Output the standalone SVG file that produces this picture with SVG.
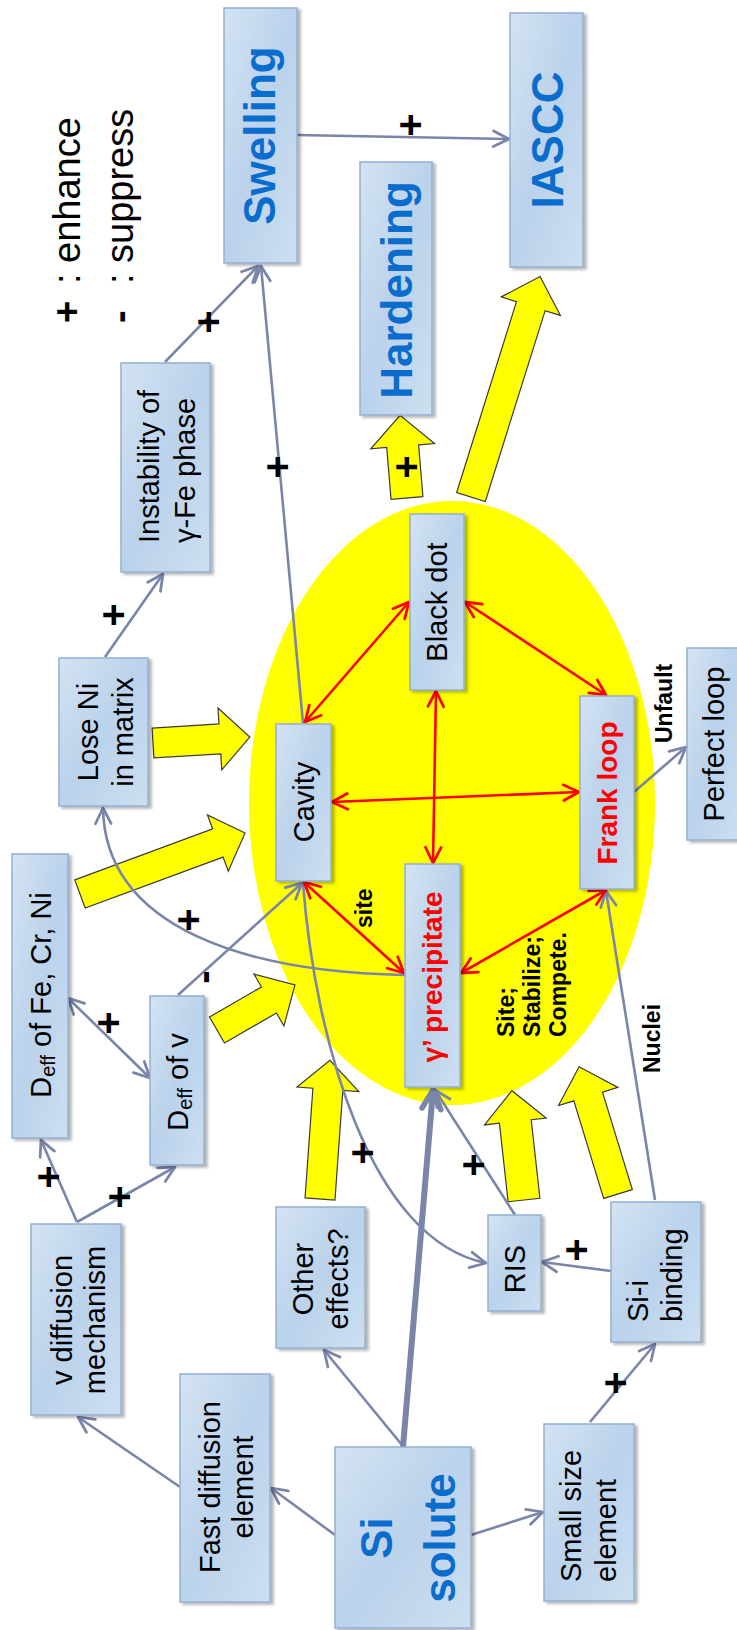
<svg xmlns="http://www.w3.org/2000/svg" width="737" height="1630" viewBox="0 0 737 1630">
<style>
.box{fill:url(#bg);stroke:#93afd2;stroke-width:1.5;filter:url(#sh)}
.t{font-family:"Liberation Sans",Arial,sans-serif;font-size:29px;fill:#000}
.tb{font-family:"Liberation Sans",Arial,sans-serif;font-size:44px;font-weight:bold;fill:#0a6ccc}
.tr{font-family:"Liberation Sans",Arial,sans-serif;font-size:28px;font-weight:bold;fill:#ff0000}
.lb{font-family:"Liberation Sans",Arial,sans-serif;font-size:23px;font-weight:bold;fill:#000}
.pm{font-family:"Liberation Sans",Arial,sans-serif;font-size:40px;font-weight:bold;fill:#000}
.lg{font-family:"Liberation Sans",Arial,sans-serif;font-size:38px;fill:#000}
.c{fill:none;stroke:#7a85aa;stroke-width:2.6;marker-end:url(#ah)}
.r{fill:none;stroke:#ff0000;stroke-width:2.6;marker-end:url(#ahr);marker-start:url(#ahr)}
.y{fill:#ffff00;stroke:#3a3a3a;stroke-width:1.2;stroke-linejoin:miter}
</style>
<defs>
<linearGradient id="bg" x1="0" y1="0" x2="1" y2="1">
<stop offset="0" stop-color="#d4e3f3"/>
<stop offset="0.5" stop-color="#bad2eb"/>
<stop offset="1" stop-color="#cddff1"/>
</linearGradient>
<filter id="sh" x="-20%" y="-20%" width="150%" height="150%">
<feDropShadow dx="3" dy="2" stdDeviation="1.5" flood-color="#000" flood-opacity="0.3"/>
</filter>
<marker id="ah" viewBox="0 0 12 12" refX="11" refY="6" markerWidth="8" markerHeight="8" orient="auto-start-reverse">
<path d="M2,1.5 L11,6 L2,10.5" fill="none" stroke="#7a85aa" stroke-width="1.6" stroke-linecap="round" stroke-linejoin="round"/>
</marker>
<marker id="ahr" viewBox="0 0 12 12" refX="11" refY="6" markerWidth="8" markerHeight="8" orient="auto-start-reverse">
<path d="M2,1.5 L11,6 L2,10.5" fill="none" stroke="#ff0000" stroke-width="1.6" stroke-linecap="round" stroke-linejoin="round"/>
</marker>
<marker id="aht" viewBox="0 0 12 12" refX="11" refY="6" markerWidth="4.2" markerHeight="4.2" orient="auto">
<path d="M2,1.5 L11,6 L2,10.5" fill="none" stroke="#7a85aa" stroke-width="2.6" stroke-linecap="round" stroke-linejoin="round"/>
</marker>
</defs>

<!-- legend -->
<g id="legend">
<text class="lg" transform="translate(80,323) rotate(-90)"><tspan font-weight="bold">+</tspan></text>
<text class="lg" transform="translate(80,284) rotate(-90)">:</text>
<text class="lg" transform="translate(80,263) rotate(-90)">enhance</text>
<text class="lg" transform="translate(133,323) rotate(-90)"><tspan font-weight="bold">-</tspan></text>
<text class="lg" transform="translate(133,284) rotate(-90)">:</text>
<text class="lg" transform="translate(133,263) rotate(-90)">suppress</text>
</g>

<!-- yellow ellipse -->
<ellipse id="cluster" cx="452" cy="803" rx="203" ry="302" fill="#ffff00"/>

<!-- block arrows -->
<g id="block-arrows">
<polygon class="y" transform="translate(471,497) rotate(-72.6)" points="0,-15 200,-15 200,-31 231,0 200,31 200,15 0,15"/>
<polygon class="y" transform="translate(407,498) rotate(-94.8)" points="0,-16 52,-16 52,-32 83,0 52,32 52,16 0,16"/>
<polygon class="y" transform="translate(153,743) rotate(-3.5)" points="0,-15 67,-15 67,-31 97,0 67,31 67,15 0,15"/>
<polygon class="y" transform="translate(80,894) rotate(-20.3)" points="0,-15 147,-15 147,-30 176,0 147,30 147,15 0,15"/>
<polygon class="y" transform="translate(217,1030) rotate(-30)" points="0,-15 60,-15 60,-30 90,0 60,30 60,15 0,15"/>
<polygon class="y" transform="translate(320,1199) rotate(-85.9)" points="0,-15 110,-15 110,-31 139,0 110,31 110,15 0,15"/>
<polygon class="y" transform="translate(524,1200) rotate(-96.3)" points="0,-16 79,-16 79,-31 110,0 79,31 79,16 0,16"/>
<polygon class="y" transform="translate(618,1194) rotate(-107)" points="0,-15 102,-15 102,-31 133,0 102,31 102,15 0,15"/>
<text class="pm" transform="translate(406,467) rotate(-90)" text-anchor="middle" dominant-baseline="central">+</text>
</g>

<!-- connectors -->
<g id="connectors">
<line class="c" x1="297" y1="135" x2="509" y2="139"/>
<line class="c" x1="165" y1="362" x2="258" y2="266"/>
<line class="c" x1="303" y1="723" x2="261" y2="266"/>
<line class="c" x1="105" y1="657" x2="163" y2="574"/>
<path class="c" d="M405,975 C250,972 105,930 103,808"/>
<line class="c" x1="178" y1="995" x2="302" y2="883"/>
<path class="c" d="M303,883 C315,1040 370,1240 486,1263"/>
<line class="c" x1="515" y1="1215" x2="435" y2="1090"/>
<line fill="none" stroke="#7a85aa" stroke-width="6" marker-end="url(#aht)" x1="403" y1="1447" x2="433" y2="1090"/>
<line class="c" x1="611" y1="1271" x2="542" y2="1262"/>
<line class="c" x1="590" y1="1422" x2="655" y2="1344"/>
<line class="c" x1="471" y1="1535" x2="543" y2="1512"/>
<line class="c" x1="402" y1="1445" x2="324" y2="1350"/>
<line class="c" x1="335" y1="1535" x2="271" y2="1488"/>
<line class="c" x1="180" y1="1487" x2="78" y2="1417"/>
<line class="c" x1="77" y1="1222" x2="41" y2="1140"/>
<line class="c" x1="77" y1="1222" x2="175" y2="1167"/>
<line class="c" x1="68" y1="998" x2="150" y2="1078" marker-start="url(#ah)"/>
<line class="c" x1="655" y1="1200" x2="606" y2="891"/>
<line class="c" x1="634" y1="792" x2="686" y2="747"/>
<line class="r" x1="305" y1="722" x2="409" y2="602"/>
<line class="r" x1="465" y1="602" x2="606" y2="695"/>
<line class="r" x1="332" y1="802" x2="579" y2="792"/>
<line class="r" x1="436" y1="691" x2="433" y2="863"/>
<line class="r" x1="304" y1="882" x2="404" y2="973"/>
<line class="r" x1="461" y1="973" x2="606" y2="890"/>
<text class="pm" transform="translate(410,125) rotate(-90)" text-anchor="middle" dominant-baseline="central">+</text>
<text class="pm" transform="translate(208,322) rotate(-90)" text-anchor="middle" dominant-baseline="central">+</text>
<text class="pm" transform="translate(277,467) rotate(-90)" text-anchor="middle" dominant-baseline="central">+</text>
<text class="pm" transform="translate(113,615) rotate(-90)" text-anchor="middle" dominant-baseline="central">+</text>
<text class="pm" transform="translate(188,920) rotate(-90)" text-anchor="middle" dominant-baseline="central">+</text>
<text class="pm" transform="translate(203,977) rotate(-90)" text-anchor="middle" dominant-baseline="central">-</text>
<text class="pm" transform="translate(362,1153) rotate(-90)" text-anchor="middle" dominant-baseline="central">+</text>
<text class="pm" transform="translate(473,1165) rotate(-90)" text-anchor="middle" dominant-baseline="central">+</text>
<text class="pm" transform="translate(576,1250) rotate(-90)" text-anchor="middle" dominant-baseline="central">+</text>
<text class="pm" transform="translate(615,1383) rotate(-90)" text-anchor="middle" dominant-baseline="central">+</text>
<text class="pm" transform="translate(48,1177) rotate(-90)" text-anchor="middle" dominant-baseline="central">+</text>
<text class="pm" transform="translate(119,1197) rotate(-90)" text-anchor="middle" dominant-baseline="central">+</text>
<text class="pm" transform="translate(108,1023) rotate(-90)" text-anchor="middle" dominant-baseline="central">+</text>
<text class="lb" transform="translate(372,928) rotate(-90)">site</text>
<text class="lb" transform="translate(672,743) rotate(-90)" font-size="24">Unfault</text>
<text class="lb" transform="translate(660,1073) rotate(-90)" font-size="24">Nuclei</text>
<text class="lb" transform="translate(514,1037) rotate(-90)" font-size="22"><tspan x="0" y="0">Site;</tspan><tspan x="0" y="26">Stabilize;</tspan><tspan x="0" y="52">Compete.</tspan></text>
</g>

<!-- nodes -->
<g id="swelling"><rect class="box" x="224" y="8" width="73" height="255"/>
<text class="tb" transform="translate(260.5,135.5) rotate(-90)" text-anchor="middle" y="14">Swelling</text></g>
<g id="iascc"><rect class="box" x="510" y="13" width="73" height="254"/>
<text class="tb" transform="translate(546.5,140) rotate(-90)" text-anchor="middle" y="16">IASCC</text></g>
<g id="hardening"><rect class="box" x="360" y="162" width="72" height="253"/>
<text class="tb" transform="translate(396,290) rotate(-90)" text-anchor="middle" y="15.5">Hardening</text></g>
<g id="instability"><rect class="box" x="121" y="363" width="89" height="209"/>
<text class="t" transform="translate(165.5,543) rotate(-90)"><tspan x="0" y="-6.5">Instability of</tspan><tspan x="0" y="29.5">γ-Fe phase</tspan></text></g>
<g id="lose-ni"><rect class="box" x="59" y="658" width="89" height="148"/>
<text class="t" transform="translate(103.5,732) rotate(-90)" text-anchor="middle"><tspan x="0" y="-5.5">Lose Ni</tspan><tspan x="0" y="29.5">in matrix</tspan></text></g>
<g id="cavity"><rect class="box" x="276" y="724" width="55" height="157"/>
<text class="t" transform="translate(303.5,802) rotate(-90)" text-anchor="middle" y="10">Cavity</text></g>
<g id="black-dot"><rect class="box" x="410" y="514" width="54" height="176"/>
<text class="t" transform="translate(437,602) rotate(-90)" text-anchor="middle" y="9.5">Black dot</text></g>
<g id="frank-loop"><rect class="box" x="580" y="696" width="54" height="193"/>
<text class="tr" transform="translate(607,793) rotate(-90)" text-anchor="middle" y="9.5">Frank loop</text></g>
<g id="perfect-loop"><rect class="box" x="687" y="648" width="54" height="192"/>
<text class="t" transform="translate(714,744) rotate(-90)" text-anchor="middle" y="9.5">Perfect loop</text></g>
<g id="gamma-prime"><rect class="box" x="405" y="864" width="55" height="223"/>
<text class="tr" transform="translate(432.5,977) rotate(-90)" text-anchor="middle" y="9.5" font-size="29">γ’ precipitate</text></g>
<g id="deff-fe"><rect class="box" x="12" y="854" width="56" height="284"/>
<text class="t" transform="translate(40,995) rotate(-90)" text-anchor="middle" y="11">D<tspan font-size="20" dy="4">eff</tspan><tspan dy="-4"> of Fe, Cr, Ni</tspan></text></g>
<g id="deff-v"><rect class="box" x="150" y="996" width="54" height="169"/>
<text class="t" transform="translate(177,1082) rotate(-90)" text-anchor="middle" y="11">D<tspan font-size="20" dy="4">eff</tspan><tspan dy="-4"> of v</tspan></text></g>
<g id="v-diffusion"><rect class="box" x="31" y="1224" width="90" height="191"/>
<text class="t" transform="translate(76,1320) rotate(-90)" text-anchor="middle"><tspan x="0" y="-4">v diffusion</tspan><tspan x="0" y="29">mechanism</tspan></text></g>
<g id="fast-diffusion"><rect class="box" x="180" y="1374" width="90" height="228"/>
<text class="t" transform="translate(225,1487) rotate(-90)" text-anchor="middle"><tspan x="0" y="-5">Fast diffusion</tspan><tspan x="0" y="28">element</tspan></text></g>
<g id="other-effects"><rect class="box" x="276" y="1207" width="89" height="141"/>
<text class="t" transform="translate(320.5,1279) rotate(-90)" text-anchor="middle"><tspan x="0" y="-7.5">Other</tspan><tspan x="0" y="27.5">effects?</tspan></text></g>
<g id="si-solute"><rect class="box" x="335" y="1447" width="136" height="181"/>
<text class="tb" transform="translate(403,1538) rotate(-90)" text-anchor="middle" font-size="46"><tspan x="0" y="-11">Si</tspan><tspan x="0" y="52">solute</tspan></text></g>
<g id="small-size"><rect class="box" x="544" y="1424" width="90" height="177"/>
<text class="t" transform="translate(589,1582) rotate(-90)"><tspan x="0" y="-8">Small size</tspan><tspan x="0" y="27">element</tspan></text></g>
<g id="ris"><rect class="box" x="488" y="1215" width="53" height="96"/>
<text class="t" transform="translate(514.5,1269) rotate(-90)" text-anchor="middle" y="10.5">RIS</text></g>
<g id="si-i-binding"><rect class="box" x="611" y="1202" width="90" height="140"/>
<text class="t" transform="translate(656,1322) rotate(-90)"><tspan x="0" y="-8">Si-i</tspan><tspan x="0" y="26">binding</tspan></text></g>
</svg>
